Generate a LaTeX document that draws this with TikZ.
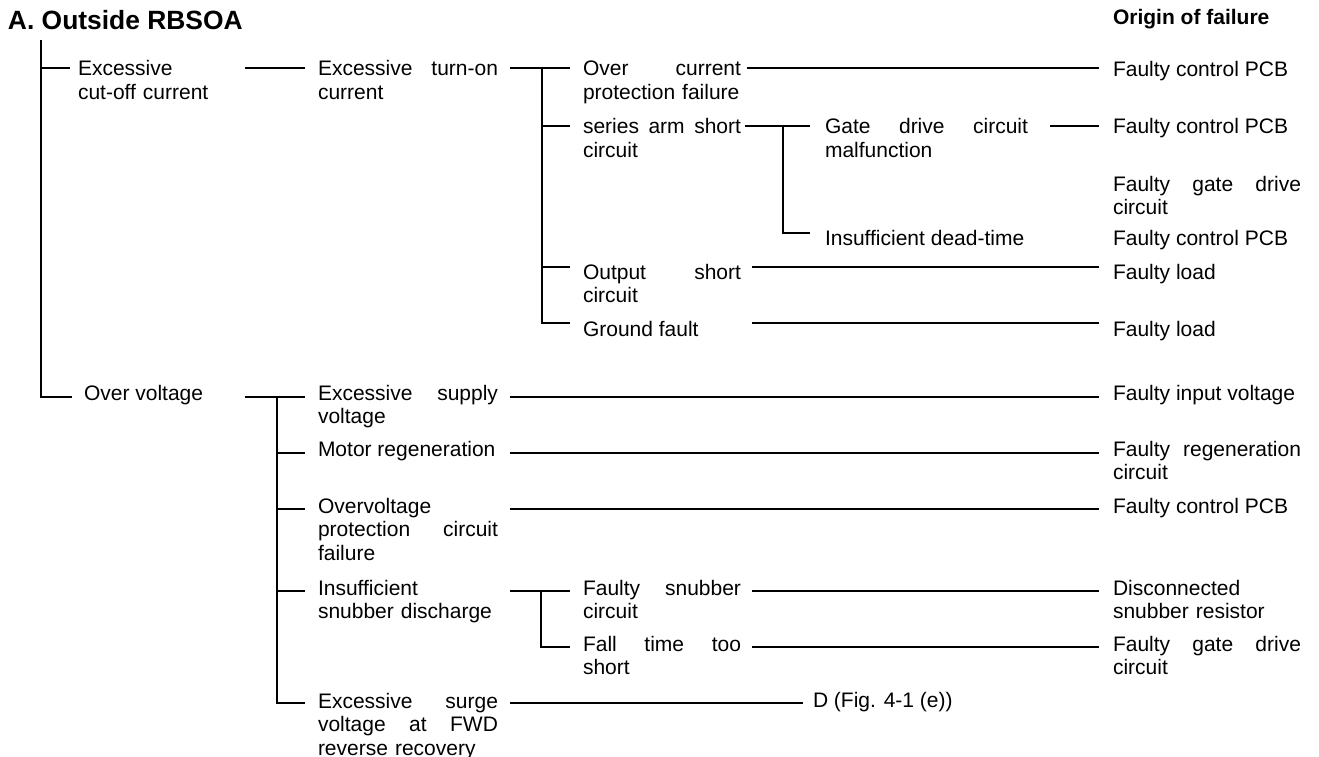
\documentclass[tikz,border=0pt]{standalone}
\usepackage{fontspec}
\setmainfont{Liberation Sans}
\begin{document}
\begin{tikzpicture}[x=1pt,y=-1pt,
  txt/.style={anchor=base west, inner sep=0pt, outer sep=0pt, font=\fontsize{21}{23.5}\selectfont, align=left},
  hd/.style={anchor=base west, inner sep=0pt, outer sep=0pt, font=\bfseries\fontsize{21}{24}\selectfont},
  ttl/.style={anchor=base west, inner sep=0pt, outer sep=0pt, font=\bfseries\fontsize{26.4}{30}\selectfont},
  wire/.style={draw=black, line width=2pt}]
\useasboundingbox (0,0) rectangle (1319,757);
% headings
\node[ttl] (title) at (8,30) {A. Outside RBSOA};
\node[hd] (origin) at (1113,25) {Origin of failure};
% column 1
\node[txt, text width=165pt] (c1a) at (78,76) {Excessive\\cut-off current};
\node[txt] (c1b) at (84,400) {Over voltage};
% column 2
\node[txt, text width=180pt] (c2a) at (318,76) {Excessive\hfill turn-on\\current};
\node[txt, text width=180pt] (c2b) at (318,400) {Excessive\hfill supply\\voltage};
\node[txt] (c2c) at (318,456) {Motor regeneration};
\node[txt, text width=180pt] (c2d) at (318,513) {Overvoltage\\protection\hfill circuit\\failure};
\node[txt, text width=180pt] (c2e) at (318,595) {Insufficient\\snubber discharge};
\node[txt, text width=180pt] (c2f) at (318,708) {Excessive\hfill surge\\voltage\hfill at\hfill FWD\\reverse recovery};
% column 3
\node[txt, text width=158pt] (c3a) at (583,76) {Over\hfill current\\protection failure};
\node[txt, text width=158pt] (c3b) at (583,134) {series\hfill arm\hfill short\\circuit};
\node[txt, text width=158pt] (c3c) at (583,279) {Output\hfill short\\circuit};
\node[txt] (c3d) at (583,336) {Ground fault};
\node[txt, text width=158pt] (c3e) at (583,595) {Faulty\hfill snubber\\circuit};
\node[txt, text width=158pt] (c3f) at (583,651) {Fall\hfill time\hfill too\\short};
% column 4
\node[txt, text width=203pt] (c4a) at (825,134) {Gate\hfill drive\hfill circuit\\malfunction};
\node[txt] (c4b) at (825,245) {Insufficient dead-time};
\node[txt] (c4c) at (813,707) {D (Fig. 4-1 (e))};
% origins
\node[txt] (r1) at (1113,77) {Faulty control PCB};
\node[txt] (r2) at (1113,133) {Faulty control PCB};
\node[txt, text width=188pt] (r3) at (1113,191) {Faulty\hfill gate\hfill drive\\circuit};
\node[txt] (r4) at (1113,245) {Faulty control PCB};
\node[txt] (r5) at (1113,279) {Faulty load};
\node[txt] (r6) at (1113,336) {Faulty load};
\node[txt] (r7) at (1113,400) {Faulty input voltage};
\node[txt, text width=188pt] (r8) at (1113,456) {Faulty\hfill regeneration\\circuit};
\node[txt] (r9) at (1113,513) {Faulty control PCB};
\node[txt, text width=188pt] (r10) at (1113,595) {Disconnected\\snubber resistor};
\node[txt, text width=188pt] (r11) at (1113,651) {Faulty\hfill gate\hfill drive\\circuit};
% junction coordinates
\coordinate (tTop) at (41,40);
\coordinate (tA) at (41,68.5);
\coordinate (tB) at (41,397);
\coordinate (tAe) at (70,68.5);
\coordinate (tBe) at (72,397);
\coordinate (a1) at (245,68.5); \coordinate (a2) at (305,68.5);
\coordinate (a3) at (510,68.5); \coordinate (a4) at (570,68.5);
\coordinate (vA) at (542,68.5);
\coordinate (vB) at (542,126); \coordinate (vBe) at (570,126);
\coordinate (vC) at (542,267); \coordinate (vCe) at (570,267);
\coordinate (vD) at (542,323); \coordinate (vDe) at (570,323);
\coordinate (a5) at (747,68.5); \coordinate (a6) at (1099,68.5);
\coordinate (b1) at (745,126); \coordinate (b2) at (810,126);
\coordinate (wB) at (783,126); \coordinate (wC) at (783,233); \coordinate (wCe) at (810,233);
\coordinate (b3) at (1050,126); \coordinate (b4) at (1099,126);
\coordinate (d1) at (752,267); \coordinate (d2) at (1099,267);
\coordinate (e1) at (752,323); \coordinate (e2) at (1099,323);
\coordinate (o1) at (245,397); \coordinate (o2) at (305,397);
\coordinate (uA) at (277,397);
\coordinate (uB) at (277,453); \coordinate (uBe) at (305,453);
\coordinate (uC) at (277,509); \coordinate (uCe) at (305,509);
\coordinate (uD) at (277,591); \coordinate (uDe) at (305,591);
\coordinate (uE) at (277,703); \coordinate (uEe) at (305,703);
\coordinate (p1) at (510,397); \coordinate (p2) at (1099,397);
\coordinate (q1) at (510,453); \coordinate (q2) at (1099,453);
\coordinate (s1) at (510,509); \coordinate (s2) at (1099,509);
\coordinate (k1) at (510,591); \coordinate (k2) at (570,591);
\coordinate (xA) at (541,591); \coordinate (xB) at (541,647); \coordinate (xBe) at (570,647);
\coordinate (k3) at (752,591); \coordinate (k4) at (1099,591);
\coordinate (k5) at (752,647); \coordinate (k6) at (1099,647);
\coordinate (m1) at (510,703); \coordinate (m2) at (803,703);
% connectors
\draw[wire] (tTop) -- (tB) -- (tBe);
\draw[wire] (tA) -- (tAe);
\draw[wire] (a1) -- (a2);
\draw[wire] (a3) -- (a4);
\draw[wire] (vA) -- (vD) -- (vDe);
\draw[wire] (vB) -- (vBe);
\draw[wire] (vC) -- (vCe);
\draw[wire] (a5) -- (a6);
\draw[wire] (b1) -- (b2);
\draw[wire] (wB) -- (wC) -- (wCe);
\draw[wire] (b3) -- (b4);
\draw[wire] (d1) -- (d2);
\draw[wire] (e1) -- (e2);
\draw[wire] (o1) -- (o2);
\draw[wire] (uA) -- (uE) -- (uEe);
\draw[wire] (uB) -- (uBe);
\draw[wire] (uC) -- (uCe);
\draw[wire] (uD) -- (uDe);
\draw[wire] (p1) -- (p2);
\draw[wire] (q1) -- (q2);
\draw[wire] (s1) -- (s2);
\draw[wire] (k1) -- (k2);
\draw[wire] (xA) -- (xB) -- (xBe);
\draw[wire] (k3) -- (k4);
\draw[wire] (k5) -- (k6);
\draw[wire] (m1) -- (m2);
\end{tikzpicture}
\end{document}
